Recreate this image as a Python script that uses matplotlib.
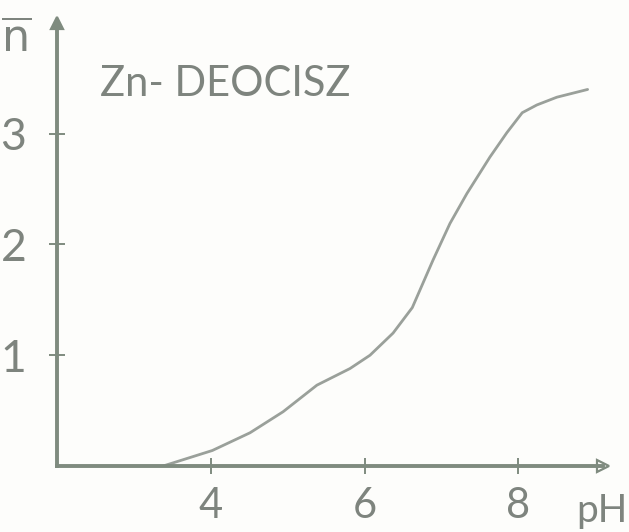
import matplotlib
matplotlib.use("Agg")
from matplotlib import pyplot as plt

# Data
PH = [3.38, 4.02, 4.51, 4.94, 5.38, 5.81, 6.07, 6.37, 6.62, 6.89,
      7.11, 7.33, 7.63, 7.85, 8.05, 8.24, 8.50, 8.90]
N_BAR = [0.0, 0.14, 0.30, 0.49, 0.73, 0.88, 1.00, 1.20, 1.43, 1.86,
         2.19, 2.46, 2.79, 3.01, 3.19, 3.26, 3.33, 3.40]
X_TICKS = [4, 6, 8]
Y_TICKS = [1, 2, 3]
TITLE = "Zn- DEOCISZ"

# Style
AXIS_INK = "#7f8b7f"
CURVE_INK = "#9aa09a"
TEXT_INK = "#7e847e"
PAPER = "#fdfdfb"
FONT = ["Lato", "DejaVu Sans"]

fig = plt.figure(figsize=(6.29, 5.32), dpi=100, facecolor=PAPER)
ax = fig.add_axes([57 / 629, 66 / 532, 546 / 629, 443 / 532])
ax.set_facecolor(PAPER)

ax.plot(PH, N_BAR, color=CURVE_INK, linewidth=2.0, solid_capstyle="round")

ax.set_xlim(2, 9.1)
ax.set_ylim(0, 4.0)

# Only the two axes, with arrow heads
for side in ("top", "right"):
    ax.spines[side].set_visible(False)
for side in ("left", "bottom"):
    ax.spines[side].set_color(AXIS_INK)
    ax.spines[side].set_linewidth(2.8)
ax.plot(1, 0, marker=">", markersize=9, color=AXIS_INK, transform=ax.transAxes,
        clip_on=False, markerfacecolor="none", markeredgewidth=1.6)
ax.plot(0, 1, marker="^", markersize=9, color=AXIS_INK, transform=ax.transAxes,
        clip_on=False, markeredgewidth=1.6)

ax.set_xticks(X_TICKS)
ax.set_yticks(Y_TICKS)
ax.tick_params(direction="inout", length=12, width=1.4, color=AXIS_INK,
               labelcolor=TEXT_INK, labelsize=32)
ax.tick_params(axis="x", pad=9, labelsize=30)
ax.tick_params(axis="y", pad=16)
for lbl in ax.get_xticklabels() + ax.get_yticklabels():
    lbl.set_family(FONT)

# Axis names
ax.text(1.045, -0.06, "pH", transform=ax.transAxes, ha="right", va="top",
        fontsize=28, color=TEXT_INK, family=FONT, clip_on=False)
ax.text(-0.075, 1.01, "$\\overline{\\mathsf{n}}$", transform=ax.transAxes,
        ha="center", va="top", fontsize=32, color=TEXT_INK, clip_on=False)

ax.text(0.078, 0.905, TITLE, transform=ax.transAxes, ha="left", va="top",
        fontsize=30, color=TEXT_INK, family=FONT)

fig.savefig("out.png", dpi=100, facecolor=PAPER)
